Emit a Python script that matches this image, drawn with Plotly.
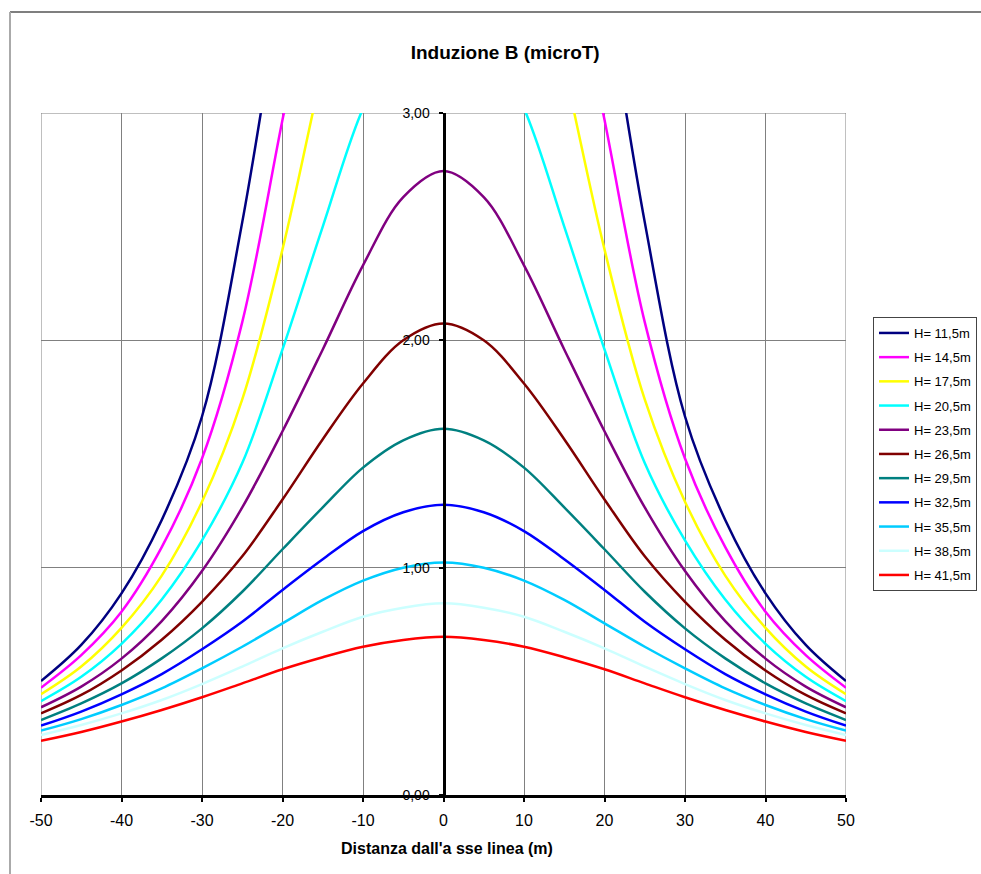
import plotly.graph_objects as go

# ---- data ----
x_dist = [-50, -45, -40, -35, -30, -25, -20, -15, -10, -5, 0, 5, 10, 15, 20, 25, 30, 35, 40, 45, 50]

labels = ["H= 11,5m", "H= 14,5m", "H= 17,5m", "H= 20,5m", "H= 23,5m", "H= 26,5m",
          "H= 29,5m", "H= 32,5m", "H= 35,5m", "H= 38,5m", "H= 41,5m"]

b_11_5 = [0.501, 0.66, 0.887, 1.21, 1.665, 2.52, 3.6, 4.7, 6.0, 7.3, 8.0, 7.3, 6.0, 4.7, 3.6, 2.52, 1.665, 1.21, 0.887, 0.66, 0.501]
b_14_5 = [0.472, 0.615, 0.806, 1.09, 1.48, 2.08, 2.97, 3.85, 4.8, 5.7, 6.2, 5.7, 4.8, 3.85, 2.97, 2.08, 1.48, 1.09, 0.806, 0.615, 0.472]
b_17_5 = [0.443, 0.565, 0.735, 0.965, 1.29, 1.74, 2.40, 3.2, 3.95, 4.5, 4.8, 4.5, 3.95, 3.2, 2.40, 1.74, 1.29, 0.965, 0.735, 0.565, 0.443]
b_20_5 = [0.413, 0.52, 0.665, 0.86, 1.12, 1.46, 1.96, 2.5, 3.02, 3.35, 3.45, 3.35, 3.02, 2.5, 1.96, 1.46, 1.12, 0.86, 0.665, 0.52, 0.413]
b_23_5 = [0.386, 0.477, 0.60, 0.765, 0.985, 1.265, 1.60, 1.96, 2.33, 2.63, 2.745, 2.63, 2.33, 1.96, 1.60, 1.265, 0.985, 0.765, 0.60, 0.477, 0.386]
b_26_5 = [0.359, 0.44, 0.548, 0.683, 0.85, 1.05, 1.30, 1.565, 1.81, 2.0, 2.074, 2.0, 1.81, 1.565, 1.30, 1.05, 0.85, 0.683, 0.548, 0.44, 0.359]
b_29_5 = [0.33, 0.403, 0.491, 0.601, 0.733, 0.894, 1.081, 1.265, 1.44, 1.56, 1.611, 1.56, 1.44, 1.265, 1.081, 0.894, 0.733, 0.601, 0.491, 0.403, 0.33]
b_32_5 = [0.305, 0.367, 0.443, 0.532, 0.641, 0.762, 0.902, 1.037, 1.161, 1.244, 1.277, 1.244, 1.161, 1.037, 0.902, 0.762, 0.641, 0.532, 0.443, 0.367, 0.305]
b_35_5 = [0.283, 0.334, 0.396, 0.469, 0.557, 0.652, 0.755, 0.858, 0.943, 1.0, 1.023, 1.0, 0.943, 0.858, 0.755, 0.652, 0.557, 0.469, 0.396, 0.334, 0.283]
b_38_5 = [0.264, 0.308, 0.359, 0.418, 0.488, 0.565, 0.645, 0.718, 0.784, 0.824, 0.843, 0.824, 0.784, 0.718, 0.645, 0.565, 0.488, 0.418, 0.359, 0.308, 0.264]
b_41_5 = [0.238, 0.277, 0.323, 0.374, 0.43, 0.491, 0.553, 0.606, 0.652, 0.682, 0.696, 0.682, 0.652, 0.606, 0.553, 0.491, 0.43, 0.374, 0.323, 0.277, 0.238]

series = [b_11_5, b_14_5, b_17_5, b_20_5, b_23_5, b_26_5, b_29_5, b_32_5, b_35_5, b_38_5, b_41_5]
colors = ["#000080", "#FF00FF", "#FFFF00", "#00FFFF", "#800080", "#800000",
          "#008080", "#0000FF", "#00CCFF", "#CCFFFF", "#FF0000"]

x_ticks = [-50, -40, -30, -20, -10, 0, 10, 20, 30, 40, 50]
x_tick_text = ["-50", "-40", "-30", "-20", "-10", "0", "10", "20", "30", "40", "50"]
y_ticks = [0, 1, 2, 3]

FONT = "Liberation Sans, Arial, sans-serif"
GRID = "#808080"

fig = go.Figure()
for i, (lab, vals, col) in enumerate(zip(labels, series, colors)):
    fig.add_trace(go.Scatter(
        x=x_dist, y=vals, mode="lines", name=lab,
        line=dict(color=col, width=2.5, shape="spline", smoothing=1.0),
        legendgroup=f"g{i}",
    ))

W, H = 981, 874
L, R, T, B = 41, 135, 113, 79
pw, ph = W - L - R, H - T - B

def px_x(p):
    return (p - L) / pw

def px_y(p):
    return (H - B - p) / ph

fig.update_layout(
    width=W, height=H,
    margin=dict(l=L, r=R, t=T, b=B, autoexpand=False),
    paper_bgcolor="white", plot_bgcolor="white",
    separators=",.",
    font=dict(family=FONT, color="black", size=13),
    title=dict(text="<b>Induzione B (microT)</b>", x=0.515, xref="container", xanchor="center",
               y=1 - 52 / H, yref="container", yanchor="middle",
               font=dict(family=FONT, size=19, color="black")),
    xaxis=dict(range=[-50, 50], tickvals=x_ticks, ticktext=x_tick_text, showgrid=True,
               gridcolor=GRID, gridwidth=1,
               zeroline=False, showline=True, linecolor="black", linewidth=3,
               ticks="outside", ticklen=4, tickwidth=2, tickcolor="black",
               tickfont=dict(family=FONT, size=16, color="black"), ticklabelstandoff=5),
    yaxis=dict(range=[0, 3], tickvals=y_ticks, tickformat=".2f", showgrid=True, gridcolor=GRID,
               gridwidth=1, zeroline=False, showline=True, linecolor="black", linewidth=3,
               ticks="outside", ticklen=4, tickwidth=2, tickcolor="black",
               anchor="free", position=0.5,
               tickfont=dict(family=FONT, size=14, color="black"), ticklabelstandoff=6),
    showlegend=True,
    legend=dict(x=px_x(873), y=px_y(317), xanchor="left", yanchor="top",
                bordercolor="#444444", borderwidth=1, bgcolor="white",
                font=dict(family=FONT, size=13, color="black"),
                tracegroupgap=4.3, itemwidth=30),
    annotations=[dict(text="<b>Distanza dall'a sse linea (m)</b>", xref="paper", yref="paper",
                      x=px_x(447), y=px_y(848), xanchor="center", yanchor="middle",
                      showarrow=False, font=dict(family=FONT, size=16, color="black"))],
    shapes=[
        dict(type="line", xref="x", yref="y", x0=-50, x1=50, y0=3, y1=3,
             line=dict(color=GRID, width=1), layer="below"),
        dict(type="line", xref="x", yref="y", x0=-50, x1=-50, y0=0, y1=3,
             line=dict(color=GRID, width=1), layer="below"),
        dict(type="line", xref="x", yref="y", x0=50, x1=50, y0=0, y1=3,
             line=dict(color=GRID, width=1), layer="below"),
        dict(type="line", xref="paper", yref="paper", x0=px_x(10), x1=px_x(W + 5),
             y0=px_y(12), y1=px_y(12), line=dict(color="black", width=1.2)),
        dict(type="line", xref="paper", yref="paper", x0=px_x(10), x1=px_x(10),
             y0=px_y(12), y1=px_y(H + 5), line=dict(color="#AAAAAA", width=2)),
    ],
)

fig.write_html("out.html")
